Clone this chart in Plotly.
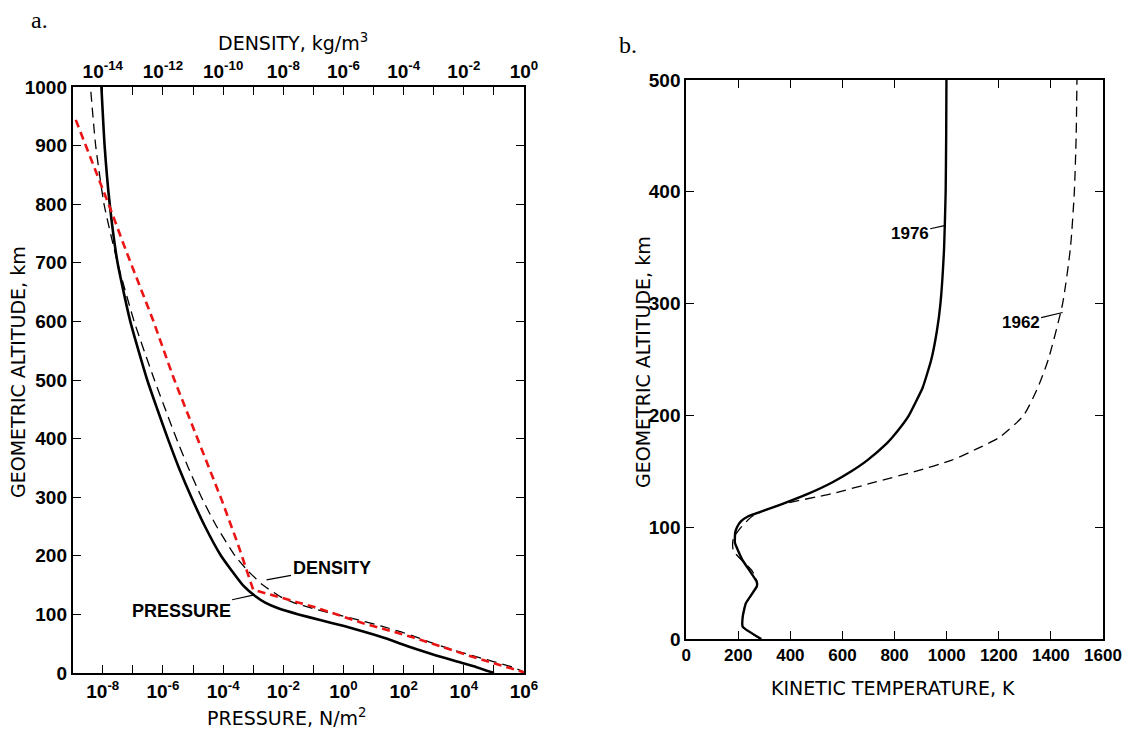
import numpy as np
import plotly.graph_objects as go

# ---------------- Data: panel a (US standard atmosphere profiles) ----------------
pres_alt = [0, 10, 20, 30, 40, 50, 60, 70, 80, 90, 100, 110, 120, 130, 150, 175, 200,
            250, 300, 350, 400, 450, 500, 600, 700, 800, 900, 1000]
pressure = [1.01e5, 2.65e4, 5.5e3, 1.2e3, 2.9e2, 80, 22, 5.2, 1.05, 0.18, 0.032, 7.1e-3,
            2.5e-3, 1.25e-3, 4.5e-4, 1.9e-4, 8.5e-5, 2.5e-5, 8.8e-6, 3.4e-6, 1.45e-6,
            6.5e-7, 3.0e-7, 8.2e-8, 3.1e-8, 1.7e-8, 1.15e-8, 9.0e-9]

dens_alt = [0, 10, 20, 30, 40, 50, 60, 70, 80, 90, 100, 110, 120, 130, 150, 175, 200,
            250, 300, 350, 400, 450, 500, 600, 700, 800, 900, 1000]
density = [1.225, 0.414, 0.0889, 0.0184, 4.0e-3, 1.03e-3, 3.1e-4, 8.3e-5, 1.85e-5, 3.4e-6,
           5.6e-7, 9.7e-8, 2.2e-8, 8.2e-9, 2.1e-9, 6.5e-10, 2.5e-10, 6.1e-11, 1.9e-11,
           7.0e-12, 2.8e-12, 1.2e-12, 5.2e-13, 1.1e-13, 3.1e-14, 1.1e-14, 5.8e-15, 3.9e-15]

fit_alt = [0, 30, 61, 85, 113, 137, 142, 222, 295, 505, 602, 717, 795, 947]
fit_density = [1.2, 1.4e-2, 2.0e-4, 4.5e-6, 1.0e-7, 2.5e-9, 1.0e-9, 3.0e-10, 9.0e-11,
               2.2e-12, 4.7e-13, 6.3e-14, 1.7e-14, 1.2e-15]

# ---------------- Data: panel b (kinetic temperature) ----------------
t1976_alt = [0, 11, 20, 32, 47, 51, 71, 86, 91, 95, 100, 105, 110, 115, 120, 130, 140,
             150, 160, 175, 180, 190, 200, 225, 250, 275, 300, 350, 400, 450, 500]
t1976 = [288, 217, 217, 229, 271, 271, 215, 187, 187, 188, 195, 209, 240, 300, 360, 469,
         560, 634, 696, 770, 790, 825, 855, 908, 941, 962, 976, 990, 996, 998, 999]

t1962_alt = [0, 11, 20, 32, 47, 52, 61, 79, 90, 100, 110, 120, 130, 140, 150, 160, 170,
             180, 200, 225, 250, 300, 350, 400, 450, 500]
t1962 = [288, 217, 217, 229, 271, 271, 253, 181, 181, 211, 255, 360, 560, 720, 880, 1020,
         1115, 1200, 1295, 1350, 1390, 1445, 1475, 1490, 1497, 1500]

# tick label definitions
p_major = list(range(-8, 7, 2))
p_minor = list(range(-7, 6, 2))
d_major = list(range(-14, 1, 2))
d_minor = list(range(-13, 0, 2))

# page body has an 8px default margin: figure is drawn offset by 8px
OFF = 8
W, H = 1130 - OFF, 731 - OFF
def px(x):
    return (x - OFF) / W
def py(y):
    return 1 - (y - OFF) / H

BLACK = "black"
TICKFONT = dict(family="Liberation Sans", size=19, color=BLACK, weight="bold")
TITLEFONT = dict(family="DejaVu Sans", size=19, color=BLACK)

fig = go.Figure()

# panel a traces
fig.add_trace(go.Scatter(x=pressure, y=pres_alt, mode="lines", xaxis="x", yaxis="y",
                         line=dict(color=BLACK, width=2.6, shape="spline", smoothing=0.5),
                         showlegend=False))
fig.add_trace(go.Scatter(x=density, y=dens_alt, mode="lines", xaxis="x3", yaxis="y",
                         line=dict(color=BLACK, width=1.3, dash="10px,6px", shape="spline",
                                   smoothing=0.5), showlegend=False))
fig.add_trace(go.Scatter(x=fit_density, y=fit_alt, mode="lines", xaxis="x3", yaxis="y",
                         line=dict(color="rgb(235,20,20)", width=2.6, dash="8px,5px"),
                         showlegend=False))

# panel b traces
fig.add_trace(go.Scatter(x=t1976, y=t1976_alt, mode="lines", xaxis="x2", yaxis="y2",
                         line=dict(color=BLACK, width=2.4, shape="spline", smoothing=0.4),
                         showlegend=False))
fig.add_trace(go.Scatter(x=t1962, y=t1962_alt, mode="lines", xaxis="x2", yaxis="y2",
                         line=dict(color=BLACK, width=1.3, dash="10px,6px", shape="spline",
                                   smoothing=0.6),
                         showlegend=False))

common = dict(showgrid=False, zeroline=False, showline=True, linecolor=BLACK, linewidth=1.8,
              ticks="inside", ticklen=8, tickwidth=1.3, tickcolor=BLACK, tickfont=TICKFONT,
              automargin=False)
minor_style = dict(ticks="inside", ticklen=8, tickwidth=1.3, tickcolor=BLACK, showgrid=False)

fig.update_layout(
    width=W, height=H, autosize=False,
    margin=dict(l=0, r=0, t=0, b=0),
    paper_bgcolor="white", plot_bgcolor="white",
    xaxis=dict(common, type="log", range=[-9, 6],
               domain=[px(72.7), px(524)], anchor="y", mirror=True,
               tickvals=[10.0 ** e for e in p_major],
               ticktext=[f"10<sup>{e}</sup>" for e in p_major],
               minor=dict(minor_style, tickvals=[10.0 ** e for e in p_minor])),
    xaxis3=dict(common, type="log", range=[-15, 0], overlaying="x", side="top", anchor="y",
                tickvals=[10.0 ** e for e in d_major],
                ticktext=[f"10<sup>{e}</sup>" for e in d_major],
                minor=dict(minor_style, tickvals=[10.0 ** e for e in d_minor])),
    yaxis=dict(common, range=[0, 1000], domain=[py(673), py(87)], anchor="x",
               mirror="ticks", tickvals=list(range(0, 1001, 100))),
    xaxis2=dict(common, range=[0, 1600], domain=[px(686.2), px(1103)], anchor="y2",
                mirror="ticks", tickvals=list(range(0, 1601, 200)),
                tickfont=dict(TICKFONT, size=17)),
    yaxis2=dict(common, range=[0, 500], domain=[py(639), py(80)], anchor="x2",
                mirror="ticks", tickvals=list(range(0, 501, 100))),
)

# axis titles
def title(text, x, y, angle=0):
    fig.add_annotation(x=px(x), y=py(y), xref="paper", yref="paper", text=text,
                       showarrow=False, textangle=angle, xanchor="center", yanchor="middle",
                       font=TITLEFONT)

title("DENSITY, kg/m<sup>3</sup>", 293, 42)
title("PRESSURE, N/m<sup>2</sup>", 287, 717)
title("GEOMETRIC ALTITUDE, km", 18, 372, -90)
title("KINETIC TEMPERATURE, K", 893, 688)
title("GEOMETRIC ALTITUDE, km", 643, 362, -90)

ann_font = dict(family="Liberation Sans", size=18, color=BLACK, weight="bold")
fig.add_annotation(x=np.log10(density[14]) + 0.12, y=159, xref="x3", yref="y",
                   text="DENSITY", showarrow=True, arrowhead=0, arrowwidth=1.2,
                   arrowcolor=BLACK, ax=65, ay=-12, font=ann_font)
fig.add_annotation(x=np.log10(pressure[13]) - 0.1, y=133, xref="x", yref="y",
                   text="PRESSURE", showarrow=True, arrowhead=0, arrowwidth=1.2,
                   arrowcolor=BLACK, ax=-72, ay=16, font=ann_font)
fig.add_annotation(x=t1976[27] + 6, y=370, xref="x2", yref="y2",
                   text="1976", showarrow=True, arrowhead=0, arrowwidth=1.2,
                   arrowcolor=BLACK, ax=-36, ay=8, font=dict(ann_font, size=17))
fig.add_annotation(x=t1962[21], y=292, xref="x2", yref="y2",
                   text="1962", showarrow=True, arrowhead=0, arrowwidth=1.2,
                   arrowcolor=BLACK, ax=-42, ay=10, font=dict(ann_font, size=17))

# panel letters
fig.add_annotation(x=px(40), y=py(20), xref="paper", yref="paper", text="a.",
                   showarrow=False, xanchor="center", yanchor="middle",
                   font=dict(family="Liberation Serif", size=24, color=BLACK))
fig.add_annotation(x=px(628), y=py(45), xref="paper", yref="paper", text="b.",
                   showarrow=False, xanchor="center", yanchor="middle",
                   font=dict(family="Liberation Serif", size=24, color=BLACK))

fig.write_html("out.html")
